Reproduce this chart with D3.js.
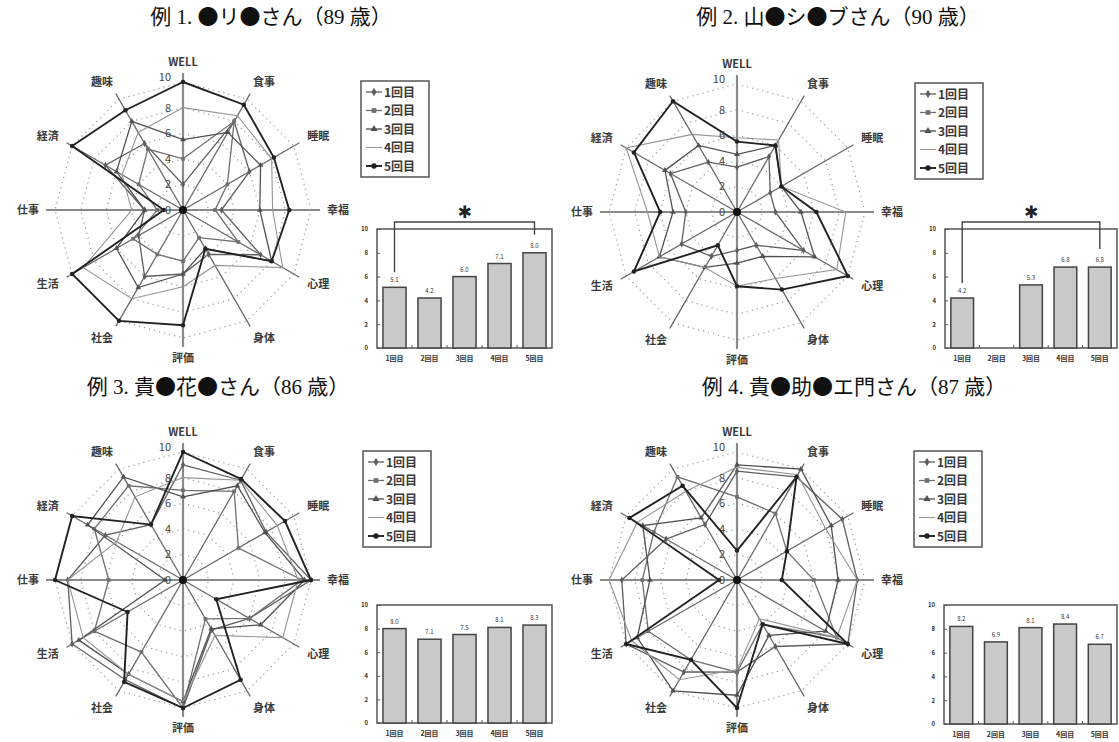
<!DOCTYPE html>
<html>
<head>
<meta charset="utf-8">
<script src="https://cdn.jsdelivr.net/npm/d3@7"></script>
<style>
body { margin: 0; background: #fff; }
text { font-family: "Noto Sans CJK JP", "Noto Sans", sans-serif; }
.title { font-family: "Liberation Serif", "Noto Sans CJK JP", serif; font-size: 21px; fill: #111; }
.title .cjk { font-family: "Noto Sans CJK JP", sans-serif; }
.axlabel { font-size: 11px; font-weight: 700; fill: #3a3a3a; }
.rtick { font-size: 11px; fill: #444; }
.leg { font-size: 12px; font-weight: 700; fill: #3a3a3a; }
.small { font-size: 6px; fill: #333; }
</style>
</head>
<body>
<svg id="chart" width="1119" height="742"></svg>
<script>
const axes = ['WELL', '食事', '睡眠', '幸福', '心理', '身体', '評価', '社会', '生活', '仕事', '経済', '趣味'];
const rounds = ['1回目', '2回目', '3回目', '4回目', '5回目'];
const titles = ['例 1.  ●リ●さん（89 歳）', '例 2.  山●シ●ブさん（90 歳）',
                '例 3.  貴●花●さん（86 歳）', '例 4.  貴●助●エ門さん（87 歳）'];
const radialTicks = [0, 2, 4, 6, 8, 10];
const barTicks = [0, 2, 4, 6, 8, 10];

// radar values, one row per round, in the order of axes
const radar1 = [
  [2, 8, 6, 3, 7, 4, 5, 6, 4, 3, 7, 6],
  [4, 8, 4, 2.5, 5, 2.5, 4, 4, 4.5, 2, 4, 5.5],
  [5.5, 7, 7, 6, 8, 3.5, 5, 7, 6, 3, 6, 8],
  [8, 8.5, 8, 7, 9, 5, 6, 8, 9, 4, 5.5, 7],
  [10, 9.5, 8.2, 8.3, 8, 3.5, 9, 10, 10, 1.5, 10, 9]
];
const radar2 = [
  [3.5, 5, 3, 3, 6, 3, 3, 4, 5, 4, 6, 4.5],
  null,
  [4.5, 6, 4, 5, 7, 4, 4, 5, 7, 5, 6.5, 6],
  [5.8, 6.5, 4, 8.5, 9, 6, 5.8, 5, 7, 7, 10, 7],
  [5.5, 6, 4, 6.2, 10, 7, 5.8, 3, 9.3, 6, 9.3, 10]
];
const radar3 = [
  [9, 9, 7.5, 10, 6, 4.5, 10, 9, 10, 9, 7, 5],
  [7, 8, 5, 9.3, 6, 3.5, 10, 6.5, 8, 5.8, 8, 8.5],
  [6.5, 8.5, 7.4, 9.5, 7, 4.4, 9.5, 8.5, 9.4, 1.4, 8.6, 9.3],
  [8, 9, 8.5, 9, 9, 5, 9.5, 8.5, 9, 9, 6, 7.5],
  [10, 9.1, 9.2, 10, 3, 9, 10, 9.2, 5, 10, 10, 5]
];
const radar4 = [
  [8.5, 9.3, 9.5, 9.4, 10, 6, 7.2, 8.3, 10, 9, 6.4, 5],
  [6.5, 6, 4.5, 6, 9, 4, 7.2, 7.2, 8, 7.4, 7.5, 9.3],
  [9, 10, 8.5, 7.9, 8, 5, 9, 10, 9, 6.8, 8.5, 5.6],
  [8.8, 9.5, 8, 9.4, 9, 3.5, 7, 9, 9.5, 10, 9, 8],
  [2.3, 9.3, 4.5, 3.5, 10, 4, 10, 7.2, 10, 1.4, 9.7, 8.5]
];

// mean score per round (null = not measured)
const means1 = [5.1, 4.2, 6.0, 7.1, 8.0];
const means2 = [4.2, null, 5.3, 6.8, 6.8];
const means3 = [8.0, 7.1, 7.5, 8.1, 8.3];
const means4 = [8.2, 6.9, 8.1, 8.4, 6.7];
const significant = [true, true, false, false];

const panels = [
  { title: titles[0], tx: 271, ty: 24, cx: 183, cy: 210, lx: 361, ly: 81, bx: 377, by: 229, bw: 175, bh: 119, radar: radar1, means: means1, sig: significant[0] },
  { title: titles[1], tx: 838, ty: 24, cx: 737, cy: 212, lx: 915, ly: 83, bx: 945, by: 229, bw: 172, bh: 119, radar: radar2, means: means2, sig: significant[1] },
  { title: titles[2], tx: 218, ty: 394, cx: 183, cy: 580, lx: 363, ly: 451, bx: 377, by: 605, bw: 175, bh: 118, radar: radar3, means: means3, sig: significant[2] },
  { title: titles[3], tx: 854, ty: 394, cx: 737, cy: 580, lx: 914, ly: 451, bx: 944, by: 605, bw: 173, bh: 119, radar: radar4, means: means4, sig: significant[3] }
];

const R = 128;
const rScale = d3.scaleLinear().domain([0, 10]).range([0, R]);
const step = 2 * Math.PI / axes.length;

const seriesStyle = [
  { color: '#5e5e5e', width: 1.3, symbol: d3.symbolDiamond },
  { color: '#707070', width: 1.3, symbol: d3.symbolSquare },
  { color: '#505050', width: 1.3, symbol: d3.symbolTriangle },
  { color: '#959595', width: 1.1, symbol: null },
  { color: '#222', width: 1.9, symbol: d3.symbolCircle }
];

const svg = d3.select('#chart');

function drawTitle(p) {
  const t = svg.append('text').attr('class', 'title')
    .attr('x', p.tx).attr('y', p.ty)
    .attr('text-anchor', 'middle');
  // split so the black dots use the CJK font (full-width glyph)
  p.title.split(/(●)/).forEach(function (part) {
    if (!part) return;
    t.append('tspan').attr('class', part === '●' ? 'cjk' : null).text(part);
  });
}

function drawRadar(p) {
  const g = svg.append('g').attr('transform', 'translate(' + p.cx + ',' + p.cy + ')');

  // dotted rings
  const ring = d3.lineRadial()
    .angle(function (d, i) { return i * step; })
    .radius(function (d) { return rScale(d); })
    .curve(d3.curveLinearClosed);
  radialTicks.filter(function (t) { return t > 0; }).forEach(function (t) {
    g.append('path')
      .attr('d', ring(axes.map(function () { return t; })))
      .attr('fill', 'none')
      .attr('stroke', '#999')
      .attr('stroke-width', 1.2)
      .attr('stroke-dasharray', '1.2,4');
  });

  // spokes
  axes.forEach(function (a, i) {
    const main = i % 3 === 0;
    const len = rScale(main ? 10.7 : 10.5);
    g.append('line')
      .attr('x1', 0).attr('y1', 0)
      .attr('x2', len * Math.sin(i * step))
      .attr('y2', -len * Math.cos(i * step))
      .attr('stroke', main ? '#8a8a8a' : '#6a6a6a')
      .attr('stroke-width', main ? 2.2 : 1.3);
  });

  // series
  p.radar.forEach(function (vals, s) {
    if (!vals) return;
    const st = seriesStyle[s];
    g.append('path')
      .attr('d', ring(vals))
      .attr('fill', 'none')
      .attr('stroke', st.color)
      .attr('stroke-width', st.width);
    if (st.symbol) {
      g.selectAll(null).data(vals).enter().append('path')
        .attr('d', d3.symbol().type(st.symbol).size(s === 4 ? 16 : 14))
        .attr('transform', function (d, i) {
          return 'translate(' + (rScale(d) * Math.sin(i * step)) + ',' + (-rScale(d) * Math.cos(i * step)) + ')';
        })
        .attr('fill', st.color);
    }
  });

  g.append('circle').attr('r', 4).attr('fill', '#111');

  // radial tick labels
  g.selectAll(null).data(radialTicks).enter().append('text')
    .attr('class', 'rtick')
    .attr('x', -12)
    .attr('y', function (d) { return -rScale(d) + (d === 10 ? -1 : 4); })
    .attr('text-anchor', 'end')
    .text(function (d) { return d; });

  // axis labels
  g.selectAll(null).data(axes).enter().append('text')
    .attr('class', 'axlabel')
    .attr('x', function (d, i) {
      const s = Math.sin(i * step);
      return (R + 20) * s + (Math.abs(s) > 0.01 ? Math.sign(s) * 7 : 0);
    })
    .attr('y', function (d, i) { return -(R + 20) * Math.cos(i * step) + 4; })
    .attr('text-anchor', 'middle')
    .text(function (d) { return d; });
}

function drawLegend(p) {
  const g = svg.append('g').attr('transform', 'translate(' + p.lx + ',' + p.ly + ')');
  g.append('rect').attr('width', 68).attr('height', 96)
    .attr('fill', '#fff').attr('stroke', '#555').attr('stroke-width', 1.5);
  rounds.forEach(function (name, s) {
    const st = seriesStyle[s];
    const y = 11 + s * 18.5;
    g.append('line').attr('x1', 5).attr('x2', 21).attr('y1', y).attr('y2', y)
      .attr('stroke', st.color).attr('stroke-width', st.width);
    if (st.symbol) {
      g.append('path').attr('d', d3.symbol().type(st.symbol).size(22))
        .attr('transform', 'translate(13,' + y + ')').attr('fill', st.color);
    }
    g.append('text').attr('class', 'leg').attr('x', 23).attr('y', y + 4.5).text(name);
  });
}

function drawBars(p) {
  const g = svg.append('g').attr('transform', 'translate(' + p.bx + ',' + p.by + ')');
  const x = d3.scaleBand().domain(rounds).range([0, p.bw]).paddingInner(0.34).paddingOuter(0.17);
  const y = d3.scaleLinear().domain([0, 10]).range([p.bh, 0]);

  g.append('rect').attr('width', p.bw).attr('height', p.bh)
    .attr('fill', 'none').attr('stroke', '#555').attr('stroke-width', 1.5);

  const yAxis = g.append('g').call(d3.axisLeft(y).tickValues(barTicks).tickSize(3).tickPadding(6));
  yAxis.select('.domain').remove();
  yAxis.selectAll('line').attr('stroke', '#555').attr('transform', 'translate(3,0)');
  yAxis.selectAll('text').attr('class', 'small').style('font-size', '6px').style('font-weight', '700');

  const xAxis = g.append('g').attr('transform', 'translate(0,' + p.bh + ')')
    .call(d3.axisBottom(x).tickSize(0).tickPadding(8));
  xAxis.select('.domain').remove();
  xAxis.selectAll('text').attr('class', 'small').style('font-size', '7px').style('font-weight', '700');

  // small marks between categories
  g.selectAll(null).data(rounds.slice(1)).enter().append('line')
    .attr('x1', function (d) { return x(d) - x.step() * x.paddingInner() / 2; })
    .attr('x2', function (d) { return x(d) - x.step() * x.paddingInner() / 2; })
    .attr('y1', p.bh).attr('y2', p.bh - 3)
    .attr('stroke', '#555');

  const data = rounds.map(function (r, i) { return { r: r, v: p.means[i] }; })
    .filter(function (d) { return d.v !== null; });

  g.selectAll(null).data(data).enter().append('rect')
    .attr('x', function (d) { return x(d.r); })
    .attr('y', function (d) { return y(d.v); })
    .attr('width', x.bandwidth())
    .attr('height', function (d) { return p.bh - y(d.v); })
    .attr('fill', '#c9c9c9').attr('stroke', '#444').attr('stroke-width', 1.5);

  g.selectAll(null).data(data).enter().append('text')
    .attr('class', 'small')
    .attr('x', function (d) { return x(d.r) + x.bandwidth() / 2; })
    .attr('y', function (d) { return y(d.v) - 5; })
    .attr('text-anchor', 'middle')
    .text(function (d) { return d.v.toFixed(1); });

  if (p.sig) {
    const a = data[0], b = data[data.length - 1];
    const xa = x(a.r) + x.bandwidth() / 2, xb = x(b.r) + x.bandwidth() / 2;
    const top = -7;
    g.append('path')
      .attr('d', 'M' + xa + ',' + (y(a.v) - 15) + 'V' + top + 'H' + xb + 'V' + (y(b.v) - 18))
      .attr('fill', 'none').attr('stroke', '#444').attr('stroke-width', 1.4);
    g.append('text')
      .attr('x', (xa + xb) / 2).attr('y', top - 4)
      .attr('text-anchor', 'middle')
      .style('font-family', '"DejaVu Sans", sans-serif')
      .style('font-size', '17px').style('font-weight', '700').attr('fill', '#222')
      .text('✱');
  }
}

panels.forEach(function (p) {
  drawTitle(p);
  drawRadar(p);
  drawLegend(p);
  drawBars(p);
});
</script>
</body>
</html>
